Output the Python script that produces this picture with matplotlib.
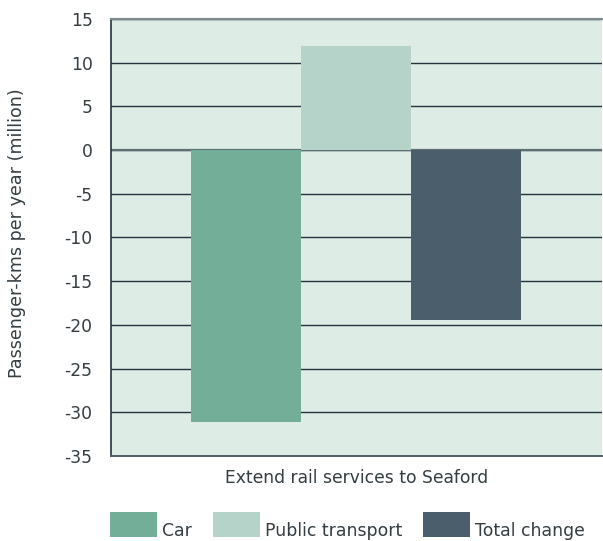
import matplotlib.pyplot as plt
from matplotlib.patches import Rectangle

# Change in passenger-kms per year (million) for the Seaford rail option
scenario = ['Extend rail services to Seaford']
series = ['Car', 'Public transport', 'Total change']
values = [-31.1, 11.9, -19.4]
colors = ['#72ae98', '#b5d3c8', '#4b5e6b']

plt.rcParams['font.family'] = ['DejaVu Sans']
plt.rcParams['axes.unicode_minus'] = False
text_color = '#343d42'

fig = plt.figure(figsize=(6.03, 5.41), dpi=100)
ax = fig.add_axes([0.1835, 0.157, 0.815, 0.808])
ax.set_facecolor('#ddece5')

width = 0.224
offsets = [-width, 0, width]
for off, val, col, name in zip(offsets, values, colors, series):
    ax.bar(off, val, width=width, color=col, label=name, zorder=3)

ax.set_xlim(-0.5, 0.5)
ax.set_ylim(-35, 15)
ax.set_yticks(range(-35, 16, 5))
ax.set_xticks([0])
ax.set_xticklabels(scenario)
ax.tick_params(axis='both', length=0, colors=text_color, labelsize=12.3)
ax.tick_params(axis='y', pad=13)
ax.tick_params(axis='x', pad=9)

ax.grid(axis='y', color='#24343d', linewidth=1.0, zorder=1)
ax.axhline(0, color='#5f6f76', linewidth=1.6, zorder=2)

ax.spines['right'].set_visible(False)
ax.spines['top'].set_color('#7f8b8f')
ax.spines['top'].set_linewidth(1.6)
ax.spines['left'].set_color('#24343d')
ax.spines['left'].set_linewidth(1.2)
ax.spines['bottom'].set_color('#4f5f66')
ax.spines['bottom'].set_linewidth(1.4)

ax.set_ylabel('Passenger-kms per year (million)', fontsize=12.6,
              color=text_color)
ax.yaxis.set_label_coords(-0.172, 0.51)

# legend row under the chart: big swatch, label sitting on its baseline
W, H = fig.get_size_inches() * fig.dpi
swatch_x = [110, 213, 423]
for sx, col, name in zip(swatch_x, colors, series):
    fig.add_artist(Rectangle((sx / W, 4 / H), 47 / W, 25 / H,
                             facecolor=col, edgecolor='none',
                             transform=fig.transFigure))
    fig.text((sx + 52) / W, 5 / H, name, fontsize=12.4, color=text_color,
             ha='left', va='baseline')

fig.savefig('out.png', dpi=100)
